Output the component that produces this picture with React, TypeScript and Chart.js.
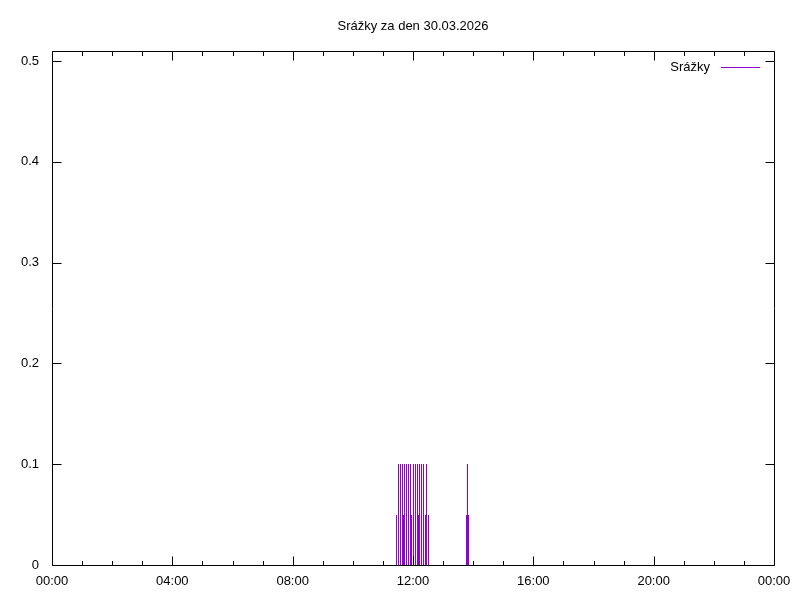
import React, { useEffect, useRef } from "react";
import { Chart, registerables } from "chart.js";

Chart.register(...registerables);

const titleText = "Srážky za den 30.03.2026";
const seriesLabel = "Srážky";
const seriesColor = "#9400d3";

const rainTimes = [
  "11:27", "11:30", "11:34", "11:38", "11:40", "11:42", "11:46", "11:50",
  "11:54", "11:56", "12:00", "12:04", "12:08", "12:10", "12:12", "12:16",
  "12:20", "12:24", "12:26", "12:30",
  "13:45", "13:47", "13:49",
];
const rainValues = [
  0.05, 0.1, 0.1, 0.1, 0.05, 0.1, 0.1, 0.1,
  0.1, 0.05, 0.1, 0.1, 0.1, 0.05, 0.1, 0.1,
  0.1, 0.05, 0.1, 0.05,
  0.05, 0.1, 0.05,
];
const yTickValues = [0, 0.1, 0.2, 0.3, 0.4, 0.5];
const xTickLabels = ["00:00", "04:00", "08:00", "12:00", "16:00", "20:00", "00:00"];

const FONT = "13px 'Liberation Sans', Arial, sans-serif";

const toMinutes = (s: string) => {
  const [h, m] = s.split(":").map(Number);
  return h * 60 + m;
};

const framePlugin = {
  id: "gnuFrame",
  afterDatasetsDraw(chart: any) {
    const { ctx, chartArea } = chart;
    const xs = chart.scales.x;
    const ys = chart.scales.y;
    const L = Math.round(chartArea.left) + 0.5;
    const R = Math.round(chartArea.right) + 0.5;
    const T = Math.round(chartArea.top) + 0.5;
    const B = Math.round(chartArea.bottom) + 0.5;
    ctx.save();

    // impulses, from the bar elements' positions
    const meta = chart.getDatasetMeta(0);
    ctx.strokeStyle = seriesColor;
    ctx.lineWidth = 1;
    ctx.beginPath();
    meta.data.forEach((el: any) => {
      const px = Math.round(el.x) + 0.5;
      ctx.moveTo(px, Math.round(el.base));
      ctx.lineTo(px, Math.round(el.y));
    });
    ctx.stroke();

    ctx.strokeStyle = "#000";
    ctx.beginPath();
    ctx.rect(L, T, R - L, B - T);
    for (let m = 0; m <= 1440; m += 60) {
      const px = Math.round(xs.getPixelForValue(m)) + 0.5;
      const len = m % 240 === 0 ? 9 : 4.5;
      ctx.moveTo(px, B);
      ctx.lineTo(px, B - len);
      ctx.moveTo(px, T);
      ctx.lineTo(px, T + len);
    }
    yTickValues.forEach((v) => {
      const py = Math.round(ys.getPixelForValue(v)) + 0.5;
      ctx.moveTo(L, py);
      ctx.lineTo(L + 9, py);
      ctx.moveTo(R, py);
      ctx.lineTo(R - 9, py);
    });
    ctx.stroke();

    // title, centred over the plot area
    ctx.fillStyle = "#000";
    ctx.font = FONT;
    ctx.textAlign = "center";
    ctx.textBaseline = "middle";
    ctx.fillText(titleText, (chartArea.left + chartArea.right) / 2, 26);

    // legend
    const ly = 67.5;
    ctx.textAlign = "right";
    ctx.fillText(chart.data.datasets[0].label, 710, ly);
    ctx.strokeStyle = seriesColor;
    ctx.beginPath();
    ctx.moveTo(721, ly);
    ctx.lineTo(760, ly);
    ctx.stroke();
    ctx.restore();
  },
};

export default function App() {
  const canvasRef = useRef<HTMLCanvasElement>(null);

  useEffect(() => {
    document.body.style.margin = "0";
    Chart.defaults.font.family = "'Liberation Sans', Arial, sans-serif";
    Chart.defaults.font.size = 13;
    Chart.defaults.color = "#000";
    const data = rainTimes.map((t, i) => ({ x: toMinutes(t), y: rainValues[i] }));
    const chart = new Chart(canvasRef.current!, {
      type: "bar",
      data: {
        datasets: [
          {
            label: seriesLabel,
            data,
            backgroundColor: "rgba(0,0,0,0)",
            borderWidth: 0,
            barThickness: 1,
            grouped: false,
          } as any,
        ],
      },
      options: {
        animation: false,
        responsive: false,
        maintainAspectRatio: false,
        layout: { padding: { left: 0, right: 26, top: 51, bottom: 0 } },
        plugins: {
          legend: { display: false },
          tooltip: { enabled: false },
          title: { display: false },
        },
        scales: {
          x: {
            type: "linear",
            min: 0,
            max: 1440,
            offset: false,
            grid: { display: false, drawTicks: false },
            border: { display: false },
            ticks: {
              stepSize: 240,
              padding: 9,
              maxRotation: 0,
              autoSkip: false,
              callback: (v: any) => xTickLabels[Math.round(Number(v) / 240)] ?? "",
            },
            afterFit: (s: any) => {
              s.height = 35;
            },
          },
          y: {
            type: "linear",
            min: 0,
            max: 0.51,
            grid: { display: false, drawTicks: false },
            border: { display: false },
            afterBuildTicks: (s: any) => {
              s.ticks = yTickValues.map((v) => ({ value: v }));
            },
            ticks: {
              padding: 13,
              callback: (v: any) => (Number(v) === 0 ? "0" : Number(v).toFixed(1)),
            },
            afterFit: (s: any) => {
              s.width = 52;
            },
          },
        },
      },
      plugins: [framePlugin],
    });
    return () => chart.destroy();
  }, []);

  return (
    <div style={{ position: "fixed", left: 0, top: 0, width: 800, height: 600, background: "#fff" }}>
      <canvas ref={canvasRef} width={800} height={600} />
    </div>
  );
}
